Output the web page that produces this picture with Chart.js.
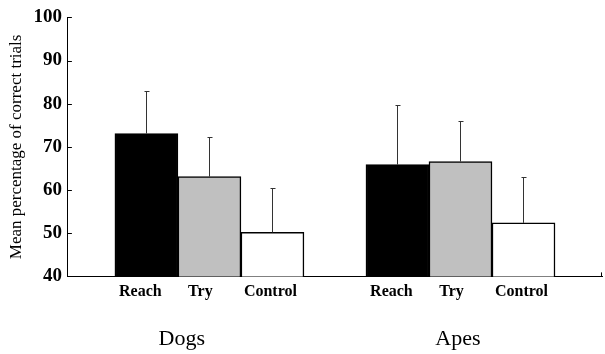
<!DOCTYPE html>
<html>
<head>
<meta charset="utf-8">
<script src="https://cdn.jsdelivr.net/npm/chart.js@4"></script>
<style>
  html, body { margin: 0; padding: 0; background: #fff; }
  #wrap { width: 605px; height: 354px; }
</style>
</head>
<body>
<div id="wrap"><canvas id="chart"></canvas></div>
<script>
// groups on the x axis and the three conditions in each
const groups = ['Dogs', 'Apes'];
const conditions = ['Reach', 'Try', 'Control'];

// mean percentage of correct trials (Dogs, Apes)
const reachMean = [73.1, 65.9];
const tryMean = [63.1, 66.6];
const controlMean = [50.2, 52.4];

// upper error bars (Dogs, Apes)
const reachErr = [9.9, 13.7];
const tryErr = [9.1, 9.5];
const controlErr = [10.3, 10.7];

const yTicks = [40, 50, 60, 70, 80, 90, 100];

const means = [reachMean, tryMean, controlMean];
const errs = [reachErr, tryErr, controlErr];
const fills = ['#000000', '#c0c0c0', '#ffffff'];

const serif = "'Liberation Serif', 'Times New Roman', serif";
const catPct = 0.753;   // share of a group slot taken by its 3 bars
const side = 0.5637;    // empty room left and right of the groups
// where the labels sit, relative to each group centre (as in the figure)
const condLabelAt = [-0.275, -0.036, 0.243];
const groupLabelAt = [-0.11, -0.01];

// error bars + inward tick marks
const extras = {
    id: 'extras',
    afterDatasetsDraw(chart) {
        const ctx = chart.ctx;
        const y = chart.scales.y;
        ctx.save();
        ctx.strokeStyle = '#333';
        ctx.lineWidth = 1;
        means.forEach((m, d) => {
            const meta = chart.getDatasetMeta(d);
            meta.data.forEach((bar, i) => {
                const top = Math.round(y.getPixelForValue(m[i] + errs[d][i]));
                const x = Math.round(bar.x) + 0.5;
                ctx.beginPath();
                ctx.moveTo(x, bar.y);
                ctx.lineTo(x, top);
                ctx.moveTo(x - 2, top + 0.5);
                ctx.lineTo(x + 3, top + 0.5);
                ctx.stroke();
            });
        });
        // small ticks pointing into the plot
        ctx.strokeStyle = '#000';
        const left = chart.chartArea.left;
        yTicks.forEach(v => {
            const py = Math.round(y.getPixelForValue(v)) + 0.5;
            ctx.beginPath();
            ctx.moveTo(left, py);
            ctx.lineTo(left + 4, py);
            ctx.stroke();
        });
        const right = chart.chartArea.right - 0.5;
        const bottom = chart.chartArea.bottom;
        ctx.beginPath();
        ctx.moveTo(right, bottom);
        ctx.lineTo(right, bottom - 4);
        ctx.stroke();
        ctx.restore();
    }
};

new Chart(document.getElementById('chart'), {
    type: 'bar',
    data: {
        datasets: conditions.map((c, d) => ({
            label: c,
            data: groups.map((g, i) => ({ x: i, y: means[d][i] })),
            backgroundColor: fills[d],
            borderColor: '#000',
            borderWidth: 1.5,
            borderSkipped: false,
            barThickness: 'flex',
            categoryPercentage: catPct,
            barPercentage: 1
        }))
    },
    options: {
        responsive: true,
        maintainAspectRatio: false,
        animation: false,
        layout: { padding: { left: 3, right: 3, top: 2, bottom: -16 } },
        plugins: {
            legend: { display: false },
            tooltip: { enabled: false }
        },
        scales: {
            x: {
                type: 'linear',
                offset: false,
                min: -side,
                max: groups.length - 1 + side,
                afterBuildTicks(scale) {
                    const t = [];
                    groups.forEach((g, i) => {
                        condLabelAt.forEach(dx => t.push({ value: i + dx }));
                    });
                    scale.ticks = t;
                },
                ticks: {
                    autoSkip: false,
                    maxRotation: 0,
                    padding: 6,
                    color: '#000',
                    font: { family: serif, size: 16, weight: 'bold' },
                    callback: (v, i) => conditions[i % conditions.length]
                },
                grid: { display: false, drawTicks: false },
                border: { display: true, color: '#000', width: 1 }
            },
            x2: {
                type: 'linear',
                position: 'bottom',
                offset: false,
                min: -side,
                max: groups.length - 1 + side,
                afterBuildTicks(scale) {
                    scale.ticks = groups.map((g, i) => ({ value: i + groupLabelAt[i] }));
                },
                ticks: {
                    autoSkip: false,
                    maxRotation: 0,
                    padding: 18,
                    color: '#000',
                    font: { family: serif, size: 22 },
                    callback: (v, i) => groups[i]
                },
                grid: { display: false, drawTicks: false },
                border: { display: false }
            },
            y: {
                min: 40,
                max: 100,
                afterBuildTicks(scale) {
                    scale.ticks = yTicks.map(v => ({ value: v }));
                },
                ticks: {
                    padding: 6,
                    color: '#000',
                    font: { family: serif, size: 19, weight: 'bold' }
                },
                title: {
                    display: true,
                    text: 'Mean percentage of correct trials',
                    color: '#000',
                    padding: { top: 3, bottom: 1 },
                    font: { family: serif, size: 17 }
                },
                grid: { display: false, drawTicks: false },
                border: { display: true, color: '#000', width: 1 }
            }
        }
    },
    plugins: [extras]
});
</script>
</body>
</html>
